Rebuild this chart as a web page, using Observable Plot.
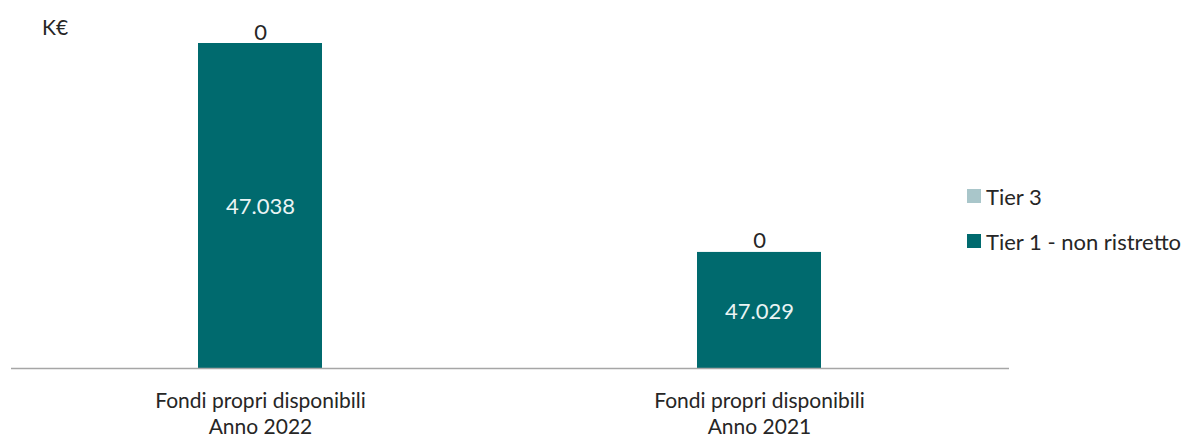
<!DOCTYPE html>
<html>
<head>
<meta charset="utf-8">
<script src="https://cdn.jsdelivr.net/npm/d3@7"></script>
<script src="https://cdn.jsdelivr.net/npm/@observablehq/plot@0.6"></script>
<style>
  body { margin: 0; background: #fff; }
  #wrap { position: relative; width: 1189px; height: 438px; font-family: Lato, "Open Sans", sans-serif; color: #262626; }
  #unit { position: absolute; left: 42px; top: 14px; font-size: 21px; line-height: 26px; }
  #legend { position: absolute; left: 967px; top: 183px; font-size: 22px; }
  #legend .item { display: flex; align-items: center; height: 26px; margin-bottom: 19px; }
  #legend .sw { width: 14px; height: 14px; margin-right: 5px; }
  svg { position: absolute; left: 0; top: 0; }
</style>
</head>
<body>
<div id="wrap">
  <div id="unit">K€</div>
  <div id="legend"></div>
</div>
<script>
const categories = ["Fondi propri disponibili\nAnno 2022", "Fondi propri disponibili\nAnno 2021"];
const tier1 = [47038, 47029];
const tier3 = [0, 0];
const seriesNames = ["Tier 3", "Tier 1 - non ristretto"];
const seriesColors = ["#a9c6ca", "#006a6e"];
const axisMin = 47024;
const axisMax = 47038;

const fmt = d3.formatLocale({decimal: ",", thousands: ".", grouping: [3], currency: ["", "€"]}).format(",d");

const rows = [];
categories.forEach((c, i) => {
  rows.push({cat: c, series: "Tier 1 - non ristretto", v: tier1[i], y1: axisMin, y2: tier1[i]});
  rows.push({cat: c, series: "Tier 3", v: tier3[i], y1: tier1[i], y2: tier1[i] + tier3[i]});
});
const t1 = rows.filter(d => d.series === "Tier 1 - non ristretto");
const t3 = rows.filter(d => d.series === "Tier 3");

const chart = Plot.plot({
  width: 1189,
  height: 438,
  marginTop: 43,
  marginBottom: 70,
  marginLeft: 11,
  marginRight: 180,
  style: {fontFamily: "Lato, 'Open Sans', sans-serif", background: "transparent"},
  x: {domain: categories, paddingInner: 0.751, paddingOuter: 0.3755, label: null},
  y: {domain: [axisMin, axisMax], axis: null},
  color: {domain: seriesNames, range: seriesColors},
  marks: [
    Plot.rectY(rows, {x: "cat", y1: "y1", y2: "y2", fill: "series"}),
    Plot.ruleY([axisMin], {stroke: "#a6a6a6", strokeWidth: 1.5}),
    Plot.text(t1, {x: "cat", y: d => (d.y1 + d.y2) / 2, text: d => fmt(d.v), fill: "#eaf4f4", fontSize: 22, dy: 1}),
    Plot.text(t3, {x: "cat", y: "y2", text: d => fmt(d.v), dy: -11, fill: "#262626", fontSize: 22}),
    Plot.axisX({tickSize: 0, tickPadding: 20, fontSize: 21, lineHeight: 1.28, fill: "#262626", label: null})
  ]
});
document.getElementById("wrap").appendChild(chart);

const legend = document.getElementById("legend");
seriesNames.forEach((s, i) => {
  const it = document.createElement("div");
  it.className = "item";
  const sw = document.createElement("div");
  sw.className = "sw";
  sw.style.background = seriesColors[i];
  const t = document.createElement("span");
  t.textContent = s;
  it.appendChild(sw); it.appendChild(t);
  legend.appendChild(it);
});
</script>
</body>
</html>
